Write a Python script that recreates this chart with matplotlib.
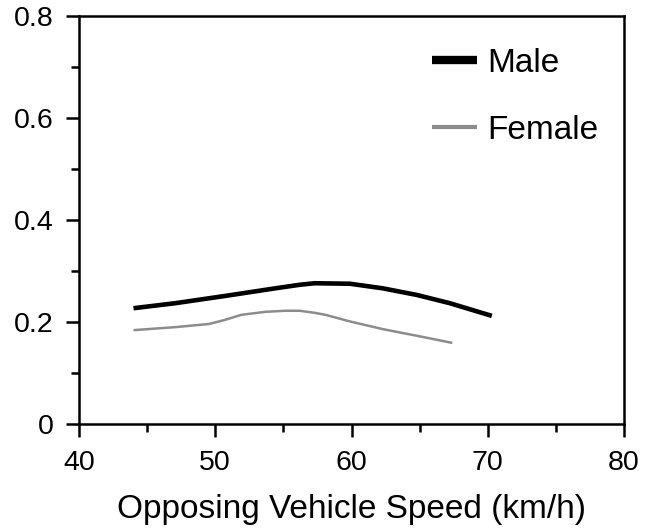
import matplotlib
matplotlib.use("Agg")
import matplotlib.pyplot as plt
from matplotlib.ticker import MultipleLocator

plt.rcParams['font.family'] = ['Liberation Sans', 'DejaVu Sans']

male_x = [44.0, 47.1, 50.7, 54.4, 56.2, 57.3, 59.9, 62.3, 64.8, 67.2, 70.3]
male_y = [0.227, 0.237, 0.251, 0.266, 0.273, 0.276, 0.275, 0.266, 0.253, 0.237, 0.212]

female_x = [44.0, 47.1, 49.5, 50.7, 51.9, 53.7, 55.1, 56.2, 57.3, 58.1, 59.9, 62.3, 64.8, 67.4]
female_y = [0.184, 0.190, 0.196, 0.204, 0.214, 0.220, 0.222, 0.222, 0.218, 0.214, 0.201, 0.186, 0.173, 0.159]

x_ticks = [40, 50, 60, 70, 80]
y_ticks = [0, 0.2, 0.4, 0.6, 0.8]
y_ticklabels = ["0", "0.2", "0.4", "0.6", "0.8"]

fig = plt.figure(figsize=(6.46, 5.31), dpi=100)
ax = fig.add_axes([79/646, 1 - 424/531, (624 - 79)/646, (424 - 16)/531])

ax.plot(male_x, male_y, color='black', lw=3.3, solid_capstyle='butt', label='Male')
ax.plot(female_x, female_y, color='#8c8c8c', lw=1.8, solid_capstyle='butt', label='Female')

ax.set_xlim(40, 80)
ax.set_ylim(0, 0.8)
ax.set_xticks(x_ticks)
ax.set_yticks(y_ticks)
ax.set_yticklabels(y_ticklabels)
ax.xaxis.set_minor_locator(MultipleLocator(5))
ax.yaxis.set_minor_locator(MultipleLocator(0.1))

for s in ax.spines.values():
    s.set_linewidth(1.8)

ax.tick_params(which='major', direction='out', length=9.5, width=1.8, labelsize=20.5, pad=9, colors='black')
ax.tick_params(which='minor', direction='out', length=5.5, width=1.8)
ax.tick_params(top=False, right=False, which='both')

ax.set_xlabel("Opposing Vehicle Speed (km/h)", fontsize=24, labelpad=13)

leg = ax.legend(loc='upper left', bbox_to_anchor=(432/646, 1 - 48/531),
                bbox_transform=fig.transFigure, frameon=False, borderpad=0, borderaxespad=0,
                fontsize=24, handlelength=1.35, handletextpad=0.3, labelspacing=1.08)
lines = leg.get_lines()
lines[0].set_linewidth(6)
lines[1].set_linewidth(3)

fig.savefig("out.png", dpi=100)
